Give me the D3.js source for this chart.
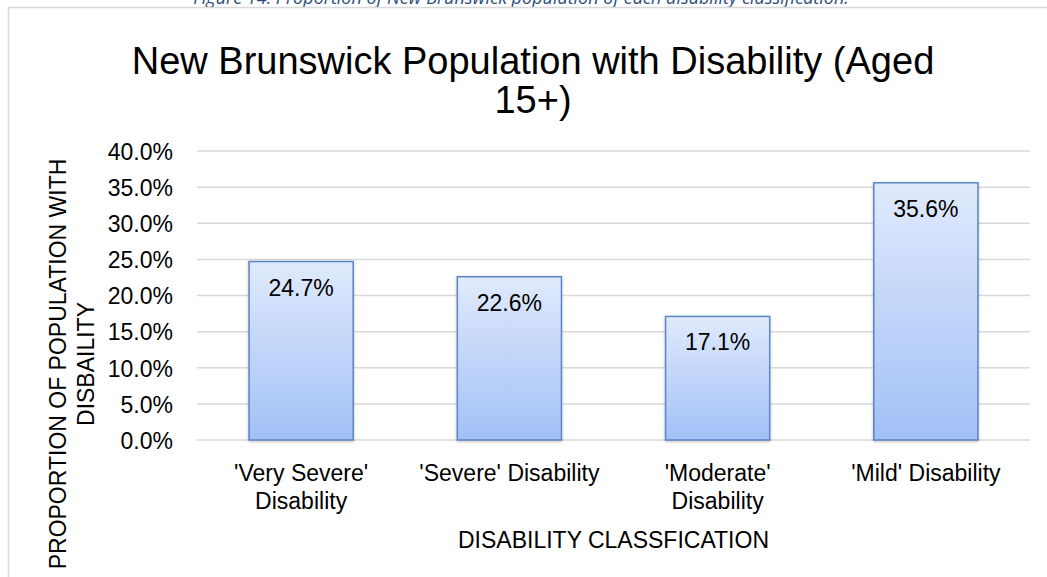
<!DOCTYPE html>
<html>
<head>
<meta charset="utf-8">
<script src="https://cdn.jsdelivr.net/npm/d3@7"></script>
<style>
  html, body { margin: 0; padding: 0; background: #fff; }
  svg { display: block; }
</style>
</head>
<body>
<svg id="chart" width="1047" height="577"></svg>
<script>
// ---- data ----
const categories = ["'Very Severe' Disability", "'Severe' Disability", "'Moderate' Disability", "'Mild' Disability"];
const values = [24.7, 22.6, 17.1, 35.6];
const yTicks = [0, 5, 10, 15, 20, 25, 30, 35, 40];
const titleLines = ["New Brunswick Population with Disability (Aged", "15+)"];
const yTitleLines = ["PROPORTION OF POPULATION WITH", "DISBAILITY"];
const xTitle = "DISABILITY CLASSFICATION";
const caption = "Figure 14: Proportion of New Brunswick population of each disability classification.";

const svg = d3.select("#chart");
const font = "'Liberation Sans', Arial, sans-serif";

// caption (cut at the top, as in the source)
svg.append("text")
  .attr("x", 521).attr("y", 4)
  .attr("text-anchor", "middle")
  .attr("font-family", "'Open Sans', sans-serif")
  .attr("font-style", "italic")
  .attr("font-size", 18)
  .attr("fill", "#2c4f7c")
  .text(caption);

// chart border (top and left visible)
svg.append("path")
  .attr("d", "M8.5,577 L8.5,7.5 L1047,7.5")
  .attr("fill", "none").attr("stroke", "#d9d9d9").attr("stroke-width", 1.5);

// scales
const plot = { left: 197, right: 1030, top: 151, bottom: 440 };
const x = d3.scaleBand().domain(categories).range([plot.left, plot.right]).paddingInner(0.5).paddingOuter(0.25);
const y = d3.scaleLinear().domain([0, 40]).range([plot.bottom, plot.top]);

// gridlines
svg.append("g").selectAll("line").data(yTicks).join("line")
  .attr("x1", plot.left).attr("x2", plot.right)
  .attr("y1", d => y(d)).attr("y2", d => y(d))
  .attr("stroke", "#d9d9d9").attr("stroke-width", 1.5);

// y axis labels
const yAxis = d3.axisLeft(y).tickValues(yTicks).tickFormat(d => d.toFixed(1) + "%").tickSize(0).tickPadding(0);
const gy = svg.append("g").attr("transform", `translate(173,0)`).call(yAxis);
gy.select(".domain").remove();
gy.selectAll("text").attr("font-family", font).attr("font-size", 23).attr("fill", "#000").attr("dy", "0.36em");

// defs: gradient + shadow
const defs = svg.append("defs");
const grad = defs.append("linearGradient").attr("id", "barGrad").attr("x1", 0).attr("y1", 0).attr("x2", 0).attr("y2", 1);
grad.append("stop").attr("offset", "0%").attr("stop-color", "#e0eafc");
grad.append("stop").attr("offset", "100%").attr("stop-color", "#a2c0f7");
const sh = defs.append("filter").attr("id", "shadow").attr("x", "-20%").attr("y", "-20%").attr("width", "140%").attr("height", "140%");
sh.append("feDropShadow").attr("dx", 0).attr("dy", 1).attr("stdDeviation", 1.5).attr("flood-color", "#000").attr("flood-opacity", 0.25);

// bars
svg.append("g").selectAll("rect").data(values).join("rect")
  .attr("x", (d, i) => x(categories[i]))
  .attr("y", d => y(d))
  .attr("width", x.bandwidth())
  .attr("height", d => y(0) - y(d))
  .attr("fill", "url(#barGrad)")
  .attr("stroke", "#5b86c4").attr("stroke-width", 1.5)
  .attr("filter", "url(#shadow)");

// data labels
svg.append("g").selectAll("text").data(values).join("text")
  .attr("x", (d, i) => x(categories[i]) + x.bandwidth() / 2)
  .attr("y", d => y(d) + 34)
  .attr("text-anchor", "middle")
  .attr("font-family", font).attr("font-size", 23).attr("fill", "#000")
  .text(d => d.toFixed(1) + "%");

// x axis labels with wrapping
const xAxis = d3.axisBottom(x).tickSize(0).tickPadding(0);
const gx = svg.append("g").attr("transform", `translate(0,${plot.bottom})`).call(xAxis);
gx.select(".domain").remove();
gx.selectAll("text").attr("font-family", font).attr("font-size", 23).attr("fill", "#000")
  .each(function(d) {
    const t = d3.select(this);
    const words = d.split(" ");
    t.text(null).attr("y", 0).attr("dy", null);
    const lines = [];
    let line = [];
    const probe = t.append("tspan");
    for (const w of words) {
      line.push(w);
      probe.text(line.join(" "));
      if (probe.node().getComputedTextLength() > 190 && line.length > 1) {
        line.pop();
        lines.push(line.join(" "));
        line = [w];
      }
    }
    lines.push(line.join(" "));
    probe.remove();
    lines.forEach((l, i) => {
      t.append("tspan").attr("x", 0).attr("y", 41 + i * 28).text(l);
    });
  });

// x axis title
svg.append("text")
  .attr("x", (plot.left + plot.right) / 2).attr("y", 548)
  .attr("text-anchor", "middle")
  .attr("font-family", font).attr("font-size", 23).attr("fill", "#000")
  .text(xTitle);

// y axis title
const yt = svg.append("text")
  .attr("transform", "translate(0,364) rotate(-90)")
  .attr("text-anchor", "middle")
  .attr("font-family", font).attr("font-size", 23).attr("fill", "#000");
yTitleLines.forEach((l, i) => {
  yt.append("tspan").attr("x", 0).attr("y", 66 + i * 28).text(l);
});

// title
const tt = svg.append("text")
  .attr("text-anchor", "middle")
  .attr("font-family", font).attr("font-size", 38).attr("fill", "#000");
titleLines.forEach((l, i) => {
  tt.append("tspan").attr("x", 533).attr("y", 74 + i * 39).text(l);
});
</script>
</body>
</html>
